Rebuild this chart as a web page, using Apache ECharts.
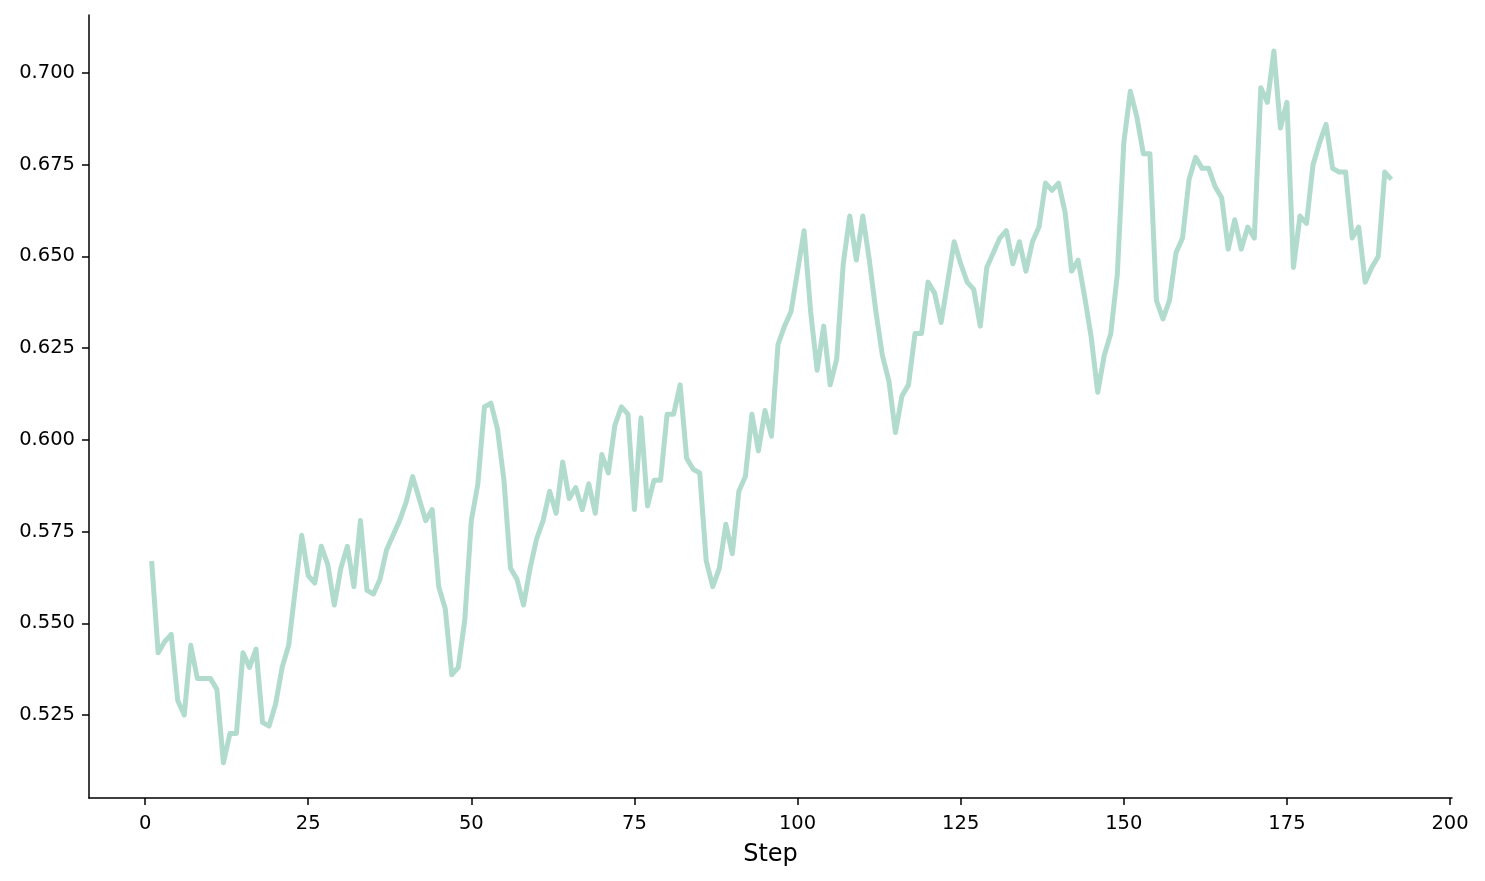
<!DOCTYPE html>
<html>
<head>
<meta charset="utf-8">
<script src="https://cdn.jsdelivr.net/npm/echarts@6/dist/echarts.min.js"></script>
<style>html,body{margin:0;padding:0;background:#fff}#c{width:1485px;height:881px}</style>
</head>
<body>
<div id="c"></div>
<script>
const values = [0.567,0.542,0.545,0.547,0.529,0.525,0.544,0.535,0.535,0.535,
0.532,0.512,0.520,0.520,0.542,0.538,0.543,0.523,0.522,0.528,
0.538,0.544,0.559,0.574,0.563,0.561,0.571,0.566,0.555,0.565,
0.571,0.560,0.578,0.559,0.558,0.562,0.570,0.574,0.578,0.583,
0.590,0.584,0.578,0.581,0.560,0.554,0.536,0.538,0.551,0.578,
0.588,0.609,0.610,0.603,0.589,0.565,0.562,0.555,0.565,0.573,
0.578,0.586,0.580,0.594,0.584,0.587,0.581,0.588,0.580,0.596,
0.591,0.604,0.609,0.607,0.581,0.606,0.582,0.589,0.589,0.607,
0.607,0.615,0.595,0.592,0.591,0.567,0.560,0.565,0.577,0.569,
0.586,0.590,0.607,0.597,0.608,0.601,0.626,0.631,0.635,0.646,
0.657,0.635,0.619,0.631,0.615,0.622,0.648,0.661,0.649,0.661,
0.649,0.635,0.623,0.616,0.602,0.612,0.615,0.629,0.629,0.643,
0.640,0.632,0.643,0.654,0.648,0.643,0.641,0.631,0.647,0.651,
0.655,0.657,0.648,0.654,0.646,0.654,0.658,0.670,0.668,0.670,
0.662,0.646,0.649,0.639,0.628,0.613,0.623,0.629,0.645,0.681,
0.695,0.688,0.678,0.678,0.638,0.633,0.638,0.651,0.655,0.671,
0.677,0.674,0.674,0.669,0.666,0.652,0.660,0.652,0.658,0.655,
0.696,0.692,0.706,0.685,0.692,0.647,0.661,0.659,0.675,0.681,
0.686,0.674,0.673,0.673,0.655,0.658,0.643,0.647,0.650,0.673,
0.671];
const steps = values.map((v,i)=>i+1);
const xTicks = [0,25,50,75,100,125,150,175,200];
const yTicks = [0.525,0.550,0.575,0.600,0.625,0.650,0.675,0.700];
const data = steps.map((s,i)=>[s,values[i]]);

const chart = echarts.init(document.getElementById('c'), null, {renderer:'canvas'});
chart.setOption({
  animation:false,
  backgroundColor:'#ffffff',
  grid:{left:89,right:33,top:15,bottom:83,containLabel:false},
  xAxis:{
    type:'value', min:-8.6, max:200.3,
    name:'Step', nameLocation:'middle', nameGap:45,
    nameTextStyle:{fontSize:24,color:'#000',fontFamily:'DejaVu Sans'},
    axisLine:{show:true,onZero:false,lineStyle:{color:'#000',width:1.5}},
    axisTick:{show:true,length:7,lineStyle:{color:'#000',width:1.5},customValues:xTicks},
    axisLabel:{color:'#000',fontSize:19.5,margin:16,fontFamily:'DejaVu Sans',customValues:xTicks},
    splitLine:{show:false}
  },
  yAxis:{
    type:'value', min:0.5024, max:0.7158,
    axisLine:{show:true,onZero:false,lineStyle:{color:'#000',width:1.5}},
    axisTick:{show:true,length:7,lineStyle:{color:'#000',width:1.5},customValues:yTicks},
    axisLabel:{color:'#000',fontSize:19.5,margin:14,fontFamily:'DejaVu Sans',customValues:yTicks,
      formatter:v=>v.toFixed(3)},
    splitLine:{show:false}
  },
  series:[{
    type:'line', data:data, showSymbol:false, symbol:'none',
    lineStyle:{color:'#b1dbcd',width:5,join:'round',cap:'butt'},
    itemStyle:{color:'#b1dbcd'}
  }]
});
</script>
</body>
</html>
